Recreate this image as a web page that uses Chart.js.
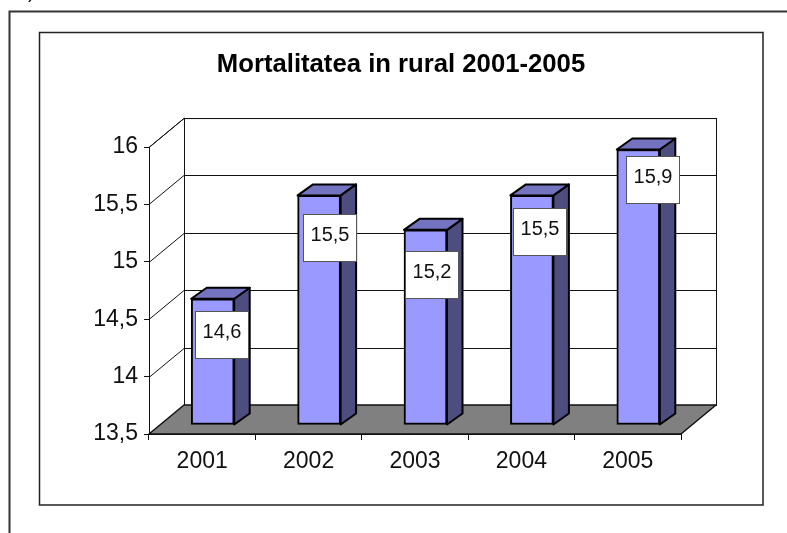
<!DOCTYPE html>
<html>
<head>
    <title>Mortalitatea in rural 2001-2005</title>
    <script src="https://cdn.jsdelivr.net/npm/chart.js"></script>
    <style>
        html, body { margin: 0; padding: 0; background: #fff; overflow: hidden; }
        #chart { display: block; }
    </style>
</head>
<body>
    <canvas id="chart" width="787" height="533"></canvas>
    <script>
        const years = ['2001', '2002', '2003', '2004', '2005'];
        const mortality = [14.6, 15.5, 15.2, 15.5, 15.9];
        const yTicks = [13.5, 14, 14.5, 15, 15.5, 16];
        const titleText = 'Mortalitatea in rural 2001-2005';

        // hand-moved data labels in the picture: offset of box centre from the bar's top left
        const labelShift = [[31, 36], [32, 43], [28, 45], [30, 37], [36, 30]];

        const FONT = '"Liberation Sans", Arial, sans-serif';
        const wallDepth = { x: 35, y: -29 };
        const barDepth = { x: 15.5, y: -11 };
        const barShift = { x: 10.5, y: -9 };

        function comma(v) {
            return String(v).replace('.', ',');
        }

        function poly(ctx, pts, fill, stroke, lw) {
            ctx.beginPath();
            pts.forEach((p, i) => i ? ctx.lineTo(p[0], p[1]) : ctx.moveTo(p[0], p[1]));
            ctx.closePath();
            ctx.fillStyle = fill;
            ctx.fill();
            ctx.lineWidth = lw;
            ctx.strokeStyle = stroke;
            ctx.lineJoin = 'round';
            ctx.stroke();
        }

        // page frame, chart box
        const framePlugin = {
            id: 'frames',
            afterLayout(chart) {
                // title sits at 401 in the picture, not over the plot
                chart.titleBlock.left = 15;
                chart.titleBlock.right = chart.width;
            },
            beforeDraw(chart) {
                const ctx = chart.ctx;
                ctx.save();
                ctx.fillStyle = '#fff';
                ctx.fillRect(0, 0, chart.width, chart.height);
                // bottom of a cut-off ")" at the page top
                ctx.fillStyle = '#111';
                ctx.font = '20px ' + FONT;
                ctx.fillText(')', 28, -2);
                ctx.strokeStyle = '#333';
                ctx.lineWidth = 2;
                ctx.beginPath();
                ctx.moveTo(9.5, chart.height);
                ctx.lineTo(9.5, 11.5);
                ctx.lineTo(chart.width, 11.5);
                ctx.stroke();
                ctx.strokeStyle = '#222';
                ctx.lineWidth = 1.5;
                ctx.strokeRect(39.5, 32.5, 723.5, 472.5);
                ctx.restore();
            }
        };

        // back wall, side wall and floor, then the bars' top and side faces
        const depthPlugin = {
            id: 'depth',
            beforeDatasetsDraw(chart) {
                const ctx = chart.ctx;
                const { left, right, top, bottom } = chart.chartArea;
                const y = chart.scales.y;
                const dx = wallDepth.x, dy = wallDepth.y;
                ctx.save();
                ctx.lineWidth = 1;
                ctx.strokeStyle = '#111';
                ctx.strokeRect(left + dx + 0.5, top + dy + 0.5, right - left, bottom - top);
                ctx.beginPath();
                ctx.moveTo(left + 0.5, top);
                ctx.lineTo(left + dx + 0.5, top + dy);
                yTicks.forEach(v => {
                    const py = Math.round(y.getPixelForValue(v)) + 0.5;
                    ctx.moveTo(left, py);
                    ctx.lineTo(left + dx, py + dy);
                    ctx.moveTo(left + dx, py + dy);
                    ctx.lineTo(right + dx, py + dy);
                });
                ctx.stroke();
                poly(ctx, [[left, bottom], [right, bottom], [right + dx, bottom + dy], [left + dx, bottom + dy]], '#808080', '#111', 1.5);

                ctx.translate(barShift.x, barShift.y);
                chart.getDatasetMeta(0).data.forEach(bar => {
                    const l = bar.x - bar.width / 2, r = bar.x + bar.width / 2;
                    const ox = barDepth.x, oy = barDepth.y;
                    poly(ctx, [[r, bar.y], [r + ox, bar.y + oy], [r + ox, bar.base + oy], [r, bar.base]], '#4D4D80', '#000', 2);
                    poly(ctx, [[l, bar.y], [l + ox, bar.y + oy], [r + ox, bar.y + oy], [r, bar.y]], '#7373BF', '#000', 2);
                });
                // left translated on purpose so the library's bars land on the same plane
            },
            afterDatasetsDraw(chart) {
                const ctx = chart.ctx;
                ctx.restore();
                ctx.save();
                ctx.font = '20px ' + FONT;
                ctx.textAlign = 'center';
                ctx.textBaseline = 'middle';
                chart.getDatasetMeta(0).data.forEach((bar, i) => {
                    const l = bar.x - bar.width / 2 + barShift.x;
                    const t = bar.y + barShift.y;
                    const cx = Math.round(l + labelShift[i][0]);
                    const cy = Math.round(t + labelShift[i][1]);
                    ctx.fillStyle = '#fff';
                    ctx.fillRect(cx - 26.5, cy - 23.5, 53, 47);
                    ctx.strokeStyle = '#555';
                    ctx.lineWidth = 1;
                    ctx.strokeRect(cx - 26.5, cy - 23.5, 53, 47);
                    ctx.fillStyle = '#111';
                    ctx.fillText(comma(mortality[i]), cx, cy - 3);
                });
                ctx.restore();
            }
        };

        new Chart(document.getElementById('chart'), {
            type: 'bar',
            data: {
                labels: years,
                datasets: [{
                    data: mortality,
                    base: yTicks[0],
                    backgroundColor: '#9999FF',
                    borderColor: '#000',
                    borderWidth: 2,
                    borderSkipped: false,
                    barThickness: 43,
                    clip: false
                }]
            },
            plugins: [framePlugin, depthPlugin],
            options: {
                responsive: false,
                animation: false,
                layout: { padding: { left: 0, right: 106, top: 0, bottom: 0 } },
                plugins: {
                    legend: { display: false },
                    tooltip: { enabled: false },
                    title: {
                        display: true,
                        text: titleText,
                        color: '#000',
                        font: { family: FONT, size: 25.7, weight: 'bold' },
                        padding: { top: 49, bottom: 67.2 }
                    }
                },
                scales: {
                    x: {
                        afterFit(scale) { scale.height = 99; },
                        border: { color: '#111' },
                        grid: { drawOnChartArea: false, color: '#111', tickLength: 6 },
                        ticks: { color: '#111', font: { family: FONT, size: 23 }, padding: 8, maxRotation: 0 }
                    },
                    y: {
                        min: 13.5,
                        max: 16,
                        afterFit(scale) { scale.width = 149; },
                        afterBuildTicks(scale) { scale.ticks = yTicks.map(v => ({ value: v })); },
                        border: { color: '#111' },
                        grid: { drawOnChartArea: false, color: '#111', tickLength: 5 },
                        ticks: { color: '#111', font: { family: FONT, size: 23 }, padding: 6, callback: comma }
                    }
                }
            }
        });
    </script>
</body>
</html>
